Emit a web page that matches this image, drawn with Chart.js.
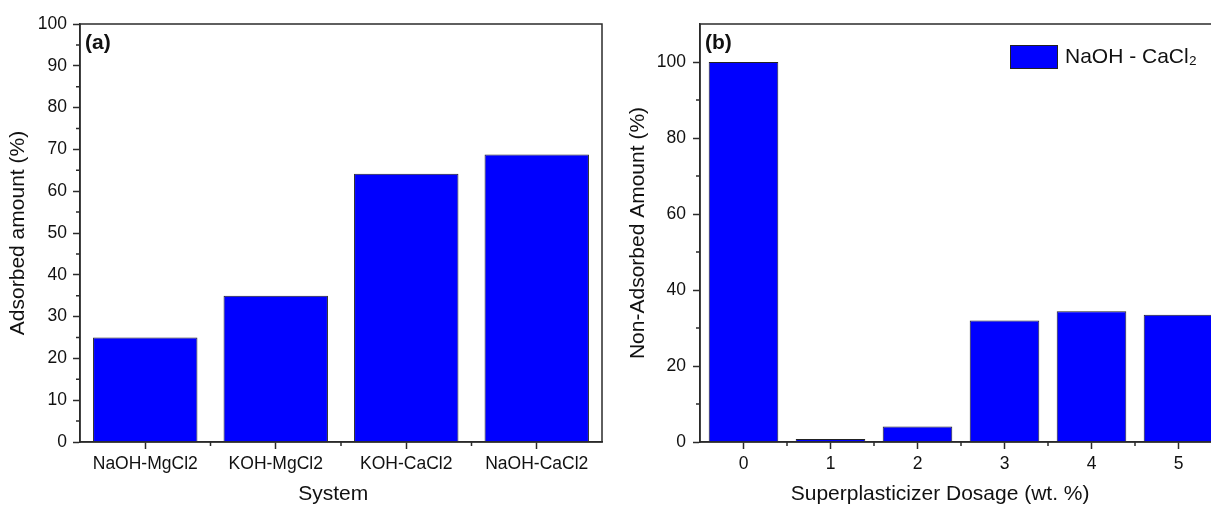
<!DOCTYPE html>
<html>
<head>
<meta charset="utf-8">
<script src="https://cdn.jsdelivr.net/npm/chart.js@4.4.0/dist/chart.umd.min.js"></script>
<style>
  html, body { margin: 0; padding: 0; background: #fff; overflow: hidden; }
  #wrapA { position: absolute; left: 0; top: 0; width: 612px; height: 508px; }
  #wrapB { position: absolute; left: 610px; top: 0; width: 640px; height: 508px; }
</style>
</head>
<body>
<div id="wrapA"><canvas id="chartA"></canvas></div>
<div id="wrapB"><canvas id="chartB"></canvas></div>
<script>
// panel (a)
var systems = ['NaOH-MgCl2', 'KOH-MgCl2', 'KOH-CaCl2', 'NaOH-CaCl2'];
var adsorbed = [25.0, 35.0, 64.2, 68.8];
var yTicksA = [0, 10, 20, 30, 40, 50, 60, 70, 80, 90, 100];
var yMinorA = [5, 15, 25, 35, 45, 55, 65, 75, 85, 95];

// panel (b)
var dosage = ['0', '1', '2', '3', '4', '5'];
var nonAdsorbed = [100, 0.8, 4.1, 32.0, 34.4, 33.5];
var yTicksB = [0, 20, 40, 60, 80, 100];
var yMinorB = [10, 30, 50, 70, 90];
var seriesB = 'NaOH - CaCl₂';

var axisColor = '#2b2b2b';
var textColor = '#111';
var fam = '"Liberation Sans", Arial, sans-serif';
var tickFont = { family: fam, size: 17.5 };
var titleFont = { family: fam, size: 21 };

// frame, minor ticks, panel letter, x title and (b) legend
var panelDeco = {
    id: 'panelDeco',
    afterDraw: function (chart, args, opts) {
        var ctx = chart.ctx, a = chart.chartArea;
        var x = chart.scales.x, y = chart.scales.y;
        ctx.save();
        ctx.strokeStyle = axisColor;
        ctx.lineWidth = 1.5;
        ctx.strokeRect(a.left, a.top, a.right - a.left, a.bottom - a.top);

        ctx.beginPath();
        opts.yMinor.forEach(function (v) {
            var py = y.getPixelForValue(v);
            ctx.moveTo(a.left - 4, py);
            ctx.lineTo(a.left, py);
        });
        for (var i = 0; i < x.ticks.length - 1; i++) {
            var px = x.getPixelForValue(i + 0.5);
            ctx.moveTo(px, a.bottom);
            ctx.lineTo(px, a.bottom + 4);
        }
        ctx.stroke();

        ctx.fillStyle = textColor;
        ctx.textAlign = 'left';
        ctx.textBaseline = 'middle';
        ctx.font = 'bold 21px ' + fam;
        ctx.fillText(opts.letter, a.left + 5, a.top + 19);

        ctx.textAlign = 'center';
        ctx.font = '21px ' + fam;
        ctx.fillText(opts.xTitle, a.left + (a.right - a.left) * opts.xTitleAt, chart.height - 14);

        if (opts.legend) {
            var ds = chart.data.datasets[0];
            var bx = a.right - 212, by = a.top + 21;
            ctx.fillStyle = ds.backgroundColor;
            ctx.fillRect(bx, by, 48, 24);
            ctx.strokeStyle = ds.borderColor;
            ctx.lineWidth = 1;
            ctx.strokeRect(bx + 0.5, by + 0.5, 47, 23);
            ctx.fillStyle = textColor;
            ctx.textAlign = 'left';
            ctx.fillText(ds.label, bx + 55, by + 12);
        }
        ctx.restore();
    }
};

function makeOptions(yMax, yTicks, yWidth, yTitle, yTitlePad, yTickPad, padRight) {
    return {
        responsive: true,
        maintainAspectRatio: false,
        animation: false,
        layout: { padding: { top: 24, right: padRight, left: 0, bottom: 0 } },
        scales: {
            x: {
                afterFit: function (s) { s.height = 66; },
                grid: { offset: false, drawOnChartArea: false, tickLength: 7, tickColor: axisColor, tickWidth: 1.5 },
                border: { color: axisColor, width: 1.5 },
                ticks: { color: textColor, font: tickFont, padding: 5, maxRotation: 0, autoSkip: false }
            },
            y: {
                min: 0,
                max: yMax,
                afterBuildTicks: function (s) {
                    s.ticks = yTicks.map(function (v) { return { value: v }; });
                },
                afterFit: function (s) { s.width = yWidth; },
                grid: { drawOnChartArea: false, tickLength: 7, tickColor: axisColor, tickWidth: 1.5 },
                border: { color: axisColor, width: 1.5 },
                ticks: { color: textColor, font: tickFont, padding: yTickPad },
                title: { display: true, text: yTitle, color: textColor, font: titleFont, padding: { top: yTitlePad, bottom: 0 } }
            }
        },
        plugins: {
            tooltip: { enabled: false },
            legend: { display: false }
        }
    };
}

var optA = makeOptions(100, yTicksA, 80, 'Adsorbed amount (%)', 6, 6, 10);
optA.plugins.panelDeco = { letter: '(a)', xTitle: 'System', xTitleAt: 0.485, yMinor: yMinorA, legend: false };

new Chart(document.getElementById('chartA').getContext('2d'), {
    type: 'bar',
    data: {
        labels: systems,
        datasets: [{
            label: 'Adsorbed amount',
            data: adsorbed,
            backgroundColor: '#0000ff',
            borderColor: '#222',
            borderWidth: 1,
            barPercentage: 0.8,
            categoryPercentage: 1
        }]
    },
    options: optA,
    plugins: [panelDeco]
});

var optB = makeOptions(110, yTicksB, 90, 'Non-Adsorbed Amount (%)', 16, 7, 28);
optB.plugins.panelDeco = { letter: '(b)', xTitle: 'Superplasticizer Dosage (wt. %)', xTitleAt: 0.46, yMinor: yMinorB, legend: true };

new Chart(document.getElementById('chartB').getContext('2d'), {
    type: 'bar',
    data: {
        labels: dosage,
        datasets: [{
            label: seriesB,
            data: nonAdsorbed,
            backgroundColor: '#0000ff',
            borderColor: '#222',
            borderWidth: 1,
            barPercentage: 0.8,
            categoryPercentage: 1
        }]
    },
    options: optB,
    plugins: [panelDeco]
});
</script>
</body>
</html>
